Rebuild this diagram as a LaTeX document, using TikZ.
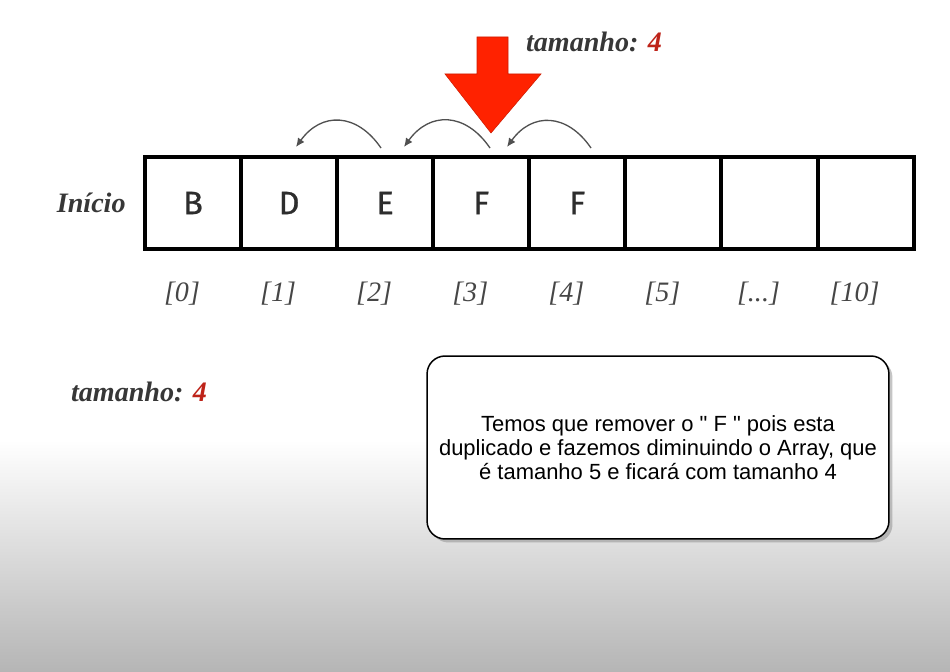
\documentclass[tikz,border=0pt]{standalone}
\usepackage{fontspec}
\setmainfont{Liberation Serif}
\newfontfamily\cellfont[FakeBold=0.7]{Fira Sans}
\newfontfamily\notefont{Liberation Sans}
\usepackage{tikz}
\usetikzlibrary{arrows.meta,positioning,shadows,shapes}

\definecolor{arrowred}{RGB}{255,34,0}
\definecolor{numred}{RGB}{190,35,25}
\definecolor{labelgray}{RGB}{55,55,55}
\definecolor{idxgray}{RGB}{70,70,70}
\definecolor{cellgray}{RGB}{45,45,45}
\definecolor{arcgray}{RGB}{80,80,80}

\tikzset{
  cell/.style={draw=black, line width=2.3pt, minimum width=1.922cm, minimum height=1.84cm,
    outer sep=0pt, inner sep=0pt, font=\cellfont\fontsize{18.5}{20}\selectfont, text=cellgray},
  idx/.style={anchor=center, inner sep=0pt, xshift=-0.22cm,
    font=\itshape\fontsize{16}{18}\selectfont, text=idxgray},
  sizelabel/.style={inner sep=0pt, font=\bfseries\itshape\fontsize{16}{18}\selectfont, text=labelgray},
  shiftarc/.style={->, >={Latex[length=5pt,width=4.5pt]}, draw=arcgray, line width=0.75pt,
    bend right=55, looseness=1.3},
  note/.style={draw=black, line width=0.85pt, fill=white, rounded corners=0.36cm,
    minimum width=9.24cm, minimum height=3.66cm, align=center,
    drop shadow={shadow xshift=2pt, shadow yshift=-2pt, opacity=0.45},
    font=\notefont\fontsize{12.5}{13.8}\selectfont}
}

\begin{document}
\begin{tikzpicture}[x=0.02cm, y=-0.02cm]
      \useasboundingbox (0,0) rectangle (950,672);
      % background
      \fill[white] (0,0) rectangle (950,672);
      \shade[top color=white, bottom color=black!29] (0,440) rectangle (950,672);

      % array cells
      \node[cell] (c0) at (193,203) {B};
      \node[cell, right=0pt of c0] (c1) {D};
      \node[cell, right=0pt of c1] (c2) {E};
      \node[cell, right=0pt of c2] (c3) {F};
      \node[cell, right=0pt of c3] (c4) {F};
      \node[cell, right=0pt of c4] (c5) {};
      \node[cell, right=0pt of c5] (c6) {};
      \node[cell, right=0pt of c6] (c7) {};

      % indices
      \node[below=0.9cm of c0, idx] (i0) {[0]};
      \node[below=0.9cm of c1, idx] (i1) {[1]};
      \node[below=0.9cm of c2, idx] (i2) {[2]};
      \node[below=0.9cm of c3, idx] (i3) {[3]};
      \node[below=0.9cm of c4, idx] (i4) {[4]};
      \node[below=0.9cm of c5, idx] (i5) {[5]};
      \node[below=0.9cm of c6, idx] (i6) {[...]};
      \node[below=0.9cm of c7, idx] (i7) {[10]};

      \node[sizelabel, left=0.38cm of c0] (inicio) {Início};

      % sizes
      \node[sizelabel] (sizetop) at (594,42) {tamanho: \textcolor{numred}{4}};
      \node[sizelabel] (sizebot) at (139,392) {tamanho: \textcolor{numred}{4}};

      % red arrow
      \fill[arrowred, draw=arrowred!80!black, line width=0.3pt]
        (477,37) -- (508,37) -- (508,74) -- (541,74) -- (491,133)
        -- (445,74) -- (477,74) -- cycle;

      % shift arcs
      \coordinate (s1) at (381,148);
      \coordinate (e1) at (296,147);
      \coordinate (s2) at (490,148);
      \coordinate (e2) at (404,147);
      \coordinate (s3) at (591,148);
      \coordinate (e3) at (507,147);
      \path (s1) edge[shiftarc] (e1);
      \path (s2) edge[shiftarc] (e2);
      \path (s3) edge[shiftarc] (e3);

      % note
      \node[note] (msg) at (658,447.5) {Temos que remover o " F " pois esta\\
        duplicado e fazemos diminuindo o Array, que\\
        é tamanho 5 e ficará com tamanho 4};
    \end{tikzpicture}
\end{document}
